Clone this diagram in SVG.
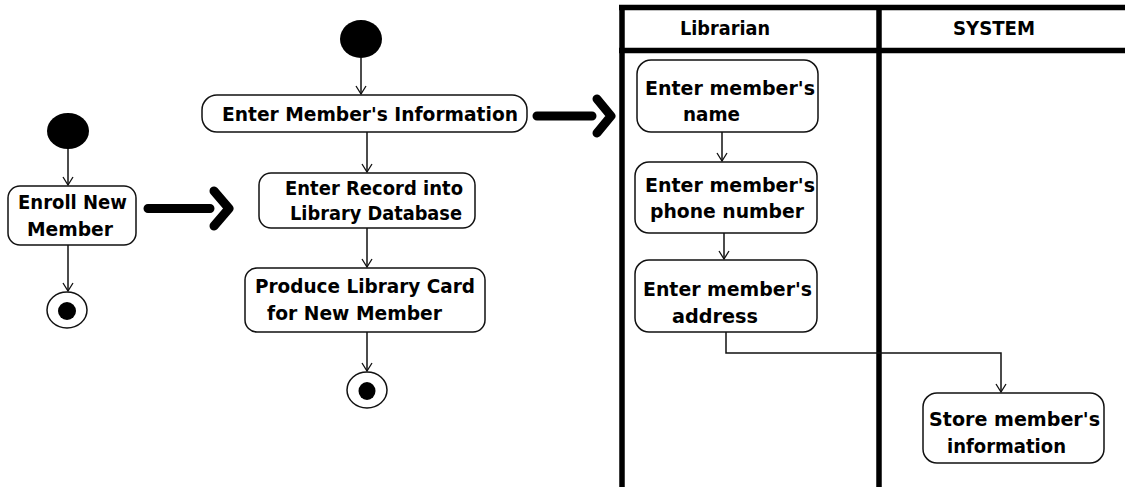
<svg xmlns="http://www.w3.org/2000/svg" width="1125" height="487" viewBox="0 0 1125 487">
  <style>
    .act { fill: #fff; stroke: #111; stroke-width: 1.5; }
    .lbl { font-family: "DejaVu Sans", "Liberation Sans", sans-serif; font-weight: bold; font-size: 19px; fill: #000; }
    .flow { fill: none; stroke: #111; stroke-width: 1.5; marker-end: url(#open); }
    .big { fill: none; stroke: #000; stroke-width: 9; stroke-linecap: round; stroke-linejoin: round; }
    .lane { fill: none; stroke: #000; stroke-width: 5.5; }
  </style>
  <defs>
    <!-- open V arrowhead, tip at the path end -->
    <marker id="open" viewBox="-11 -7 13 14" refX="0" refY="0" markerWidth="13" markerHeight="14" markerUnits="userSpaceOnUse" orient="auto">
      <path d="M-8,-5 L0,0 L-8,5" fill="none" stroke="#111" stroke-width="1.3"/>
    </marker>
  </defs>
  <rect width="1125" height="487" fill="#fff"/>

  <!-- swimlane frame -->
  <g id="swimlanes">
    <line class="lane" x1="619" y1="7.5" x2="1125" y2="7.5"/>
    <line class="lane" x1="619" y1="50.5" x2="1125" y2="50.5"/>
    <line class="lane" x1="622" y1="5" x2="622" y2="487"/>
    <line class="lane" x1="879" y1="5" x2="879" y2="487"/>
    <text class="lbl" x="680" y="35" textLength="90" lengthAdjust="spacingAndGlyphs">Librarian</text>
    <text class="lbl" x="953" y="35" textLength="82" lengthAdjust="spacingAndGlyphs">SYSTEM</text>
  </g>

  <!-- connectors -->
  <g id="connectors">
    <path class="flow" d="M68,149 V185"/>
    <path class="flow" d="M68,245 V291"/>
    <path class="flow" d="M361,58 V94"/>
    <path class="flow" d="M367,132 V172"/>
    <path class="flow" d="M367,228 V267"/>
    <path class="flow" d="M367,332 V371"/>
    <path class="flow" d="M722,132 V161"/>
    <path class="flow" d="M724,233 V259"/>
    <path class="flow" d="M726,332 V353 H1001 V392"/>
    <!-- refinement arrows -->
    <path class="big" d="M148,208.5 H210 M214,191 L229,208.5 L214,226"/>
    <path class="big" d="M537,116 H592 M597,99 L611,116 L597,133"/>
  </g>

  <!-- overview -->
  <g id="start1"><ellipse cx="68" cy="131" rx="21" ry="18" fill="#000"/></g>
  <g id="enroll">
    <rect class="act" x="8" y="186" width="128" height="59" rx="12"/>
    <text class="lbl" x="18" y="209" textLength="109" lengthAdjust="spacingAndGlyphs">Enroll New</text>
    <text class="lbl" x="27" y="236" textLength="86" lengthAdjust="spacingAndGlyphs">Member</text>
  </g>
  <g id="end1">
    <ellipse cx="67" cy="310" rx="20" ry="18" fill="#fff" stroke="#111" stroke-width="1.5"/>
    <ellipse cx="67" cy="311" rx="9" ry="9" fill="#000"/>
  </g>

  <!-- enrollment steps -->
  <g id="start2"><ellipse cx="361" cy="39" rx="21" ry="19" fill="#000"/></g>
  <g id="enterInfo">
    <rect class="act" x="202" y="95" width="325" height="37" rx="15"/>
    <text class="lbl" x="222" y="121" textLength="296" lengthAdjust="spacingAndGlyphs">Enter Member's Information</text>
  </g>
  <g id="enterRecord">
    <rect class="act" x="259" y="173" width="216" height="55" rx="12"/>
    <text class="lbl" x="285" y="195" textLength="178" lengthAdjust="spacingAndGlyphs">Enter Record into</text>
    <text class="lbl" x="290" y="220" textLength="172" lengthAdjust="spacingAndGlyphs">Library Database</text>
  </g>
  <g id="produceCard">
    <rect class="act" x="245" y="268" width="240" height="64" rx="12"/>
    <text class="lbl" x="255" y="293" textLength="220" lengthAdjust="spacingAndGlyphs">Produce Library Card</text>
    <text class="lbl" x="267" y="320" textLength="175" lengthAdjust="spacingAndGlyphs">for New Member</text>
  </g>
  <g id="end2">
    <ellipse cx="367" cy="390" rx="20" ry="18" fill="#fff" stroke="#111" stroke-width="1.5"/>
    <ellipse cx="367" cy="391" rx="8.5" ry="9" fill="#000"/>
  </g>

  <!-- librarian lane -->
  <g id="enterName">
    <rect class="act" x="637" y="60" width="181" height="72" rx="14"/>
    <text class="lbl" x="645" y="95" textLength="170" lengthAdjust="spacingAndGlyphs">Enter member's</text>
    <text class="lbl" x="683" y="121" textLength="57" lengthAdjust="spacingAndGlyphs">name</text>
  </g>
  <g id="enterPhone">
    <rect class="act" x="635" y="162" width="182" height="71" rx="14"/>
    <text class="lbl" x="645" y="192" textLength="170" lengthAdjust="spacingAndGlyphs">Enter member's</text>
    <text class="lbl" x="650" y="218" textLength="154" lengthAdjust="spacingAndGlyphs">phone number</text>
  </g>
  <g id="enterAddress">
    <rect class="act" x="635" y="260" width="182" height="72" rx="14"/>
    <text class="lbl" x="643" y="296" textLength="169" lengthAdjust="spacingAndGlyphs">Enter member's</text>
    <text class="lbl" x="672" y="323" textLength="86" lengthAdjust="spacingAndGlyphs">address</text>
  </g>

  <!-- system lane -->
  <g id="storeInfo">
    <rect class="act" x="923" y="393" width="181" height="70" rx="14"/>
    <text class="lbl" x="929" y="426" textLength="171" lengthAdjust="spacingAndGlyphs">Store member's</text>
    <text class="lbl" x="947" y="453" textLength="119" lengthAdjust="spacingAndGlyphs">information</text>
  </g>
</svg>
